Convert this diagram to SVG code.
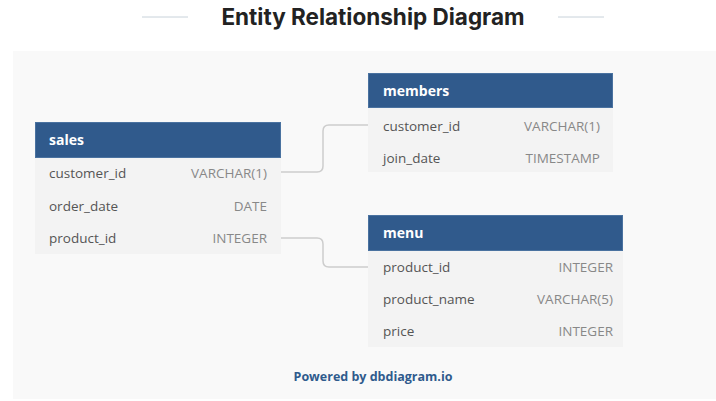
<svg xmlns="http://www.w3.org/2000/svg" width="716" height="401" viewBox="0 0 716 401">
<style>
.title{font-family:Inter,"Liberation Sans",sans-serif;font-weight:700;font-size:22.5px;fill:#222;}
.hdr{fill:#305a8c;stroke:#4a72a0;stroke-width:1;}
.body{fill:#f3f3f3;}
.tname{font-family:"Open Sans","Liberation Sans",sans-serif;font-weight:700;font-size:14px;fill:#fff;}
.fname{font-family:"Open Sans","Liberation Sans",sans-serif;font-size:13.5px;fill:#555;}
.ftype{font-family:"Open Sans","Liberation Sans",sans-serif;font-size:13.5px;fill:#888;text-anchor:end;}
.conn{fill:none;stroke:#cdcdcd;stroke-width:1.5;}
.deco{stroke:#c8d2da;stroke-width:1;}
.powered{font-family:"Open Sans","Liberation Sans",sans-serif;font-weight:700;font-size:12.5px;fill:#2f5b8d;text-anchor:middle;}
</style>
<rect x="0" y="0" width="716" height="401" fill="#fff"/>
<line class="deco" x1="142" y1="17" x2="188" y2="17"/>
<line class="deco" x1="558" y1="17" x2="604" y2="17"/>
<text class="title" x="373" y="25" text-anchor="middle">Entity Relationship Diagram</text>
<rect x="13" y="51" width="703" height="348" fill="#f9f9f9"/>
<g id="connectors">
<path class="conn" d="M281 172 H317 Q323 172 323 166 V131 Q323 125 329 125 H368"/>
<path class="conn" d="M281 238 H317 Q323 238 323 244 V261 Q323 267 329 267 H368"/>
</g>
<g id="sales">
<rect class="body" x="35" y="157" width="246" height="97"/>
<rect class="hdr" x="35.5" y="122.5" width="245" height="35"/>
<text class="tname" x="49" y="145">sales</text>
<text class="fname" x="49" y="178">customer_id</text><text class="ftype" x="267" y="178">VARCHAR(1)</text>
<text class="fname" x="49" y="211">order_date</text><text class="ftype" x="267" y="211">DATE</text>
<text class="fname" x="49" y="243">product_id</text><text class="ftype" x="267" y="243">INTEGER</text>
</g>
<g id="members">
<rect class="body" x="368" y="107" width="245" height="65"/>
<rect class="hdr" x="368.5" y="73.5" width="244" height="34"/>
<text class="tname" x="383" y="96">members</text>
<text class="fname" x="383" y="131">customer_id</text><text class="ftype" x="600" y="131">VARCHAR(1)</text>
<text class="fname" x="383" y="163">join_date</text><text class="ftype" x="600" y="163">TIMESTAMP</text>
</g>
<g id="menu">
<rect class="body" x="368" y="250" width="255" height="97"/>
<rect class="hdr" x="368.5" y="215.5" width="254" height="35"/>
<text class="tname" x="383" y="238">menu</text>
<text class="fname" x="383" y="272">product_id</text><text class="ftype" x="613" y="272">INTEGER</text>
<text class="fname" x="383" y="304">product_name</text><text class="ftype" x="613" y="304">VARCHAR(5)</text>
<text class="fname" x="383" y="336">price</text><text class="ftype" x="613" y="336">INTEGER</text>
</g>
<text class="powered" x="373" y="381">Powered by dbdiagram.io</text>
</svg>
